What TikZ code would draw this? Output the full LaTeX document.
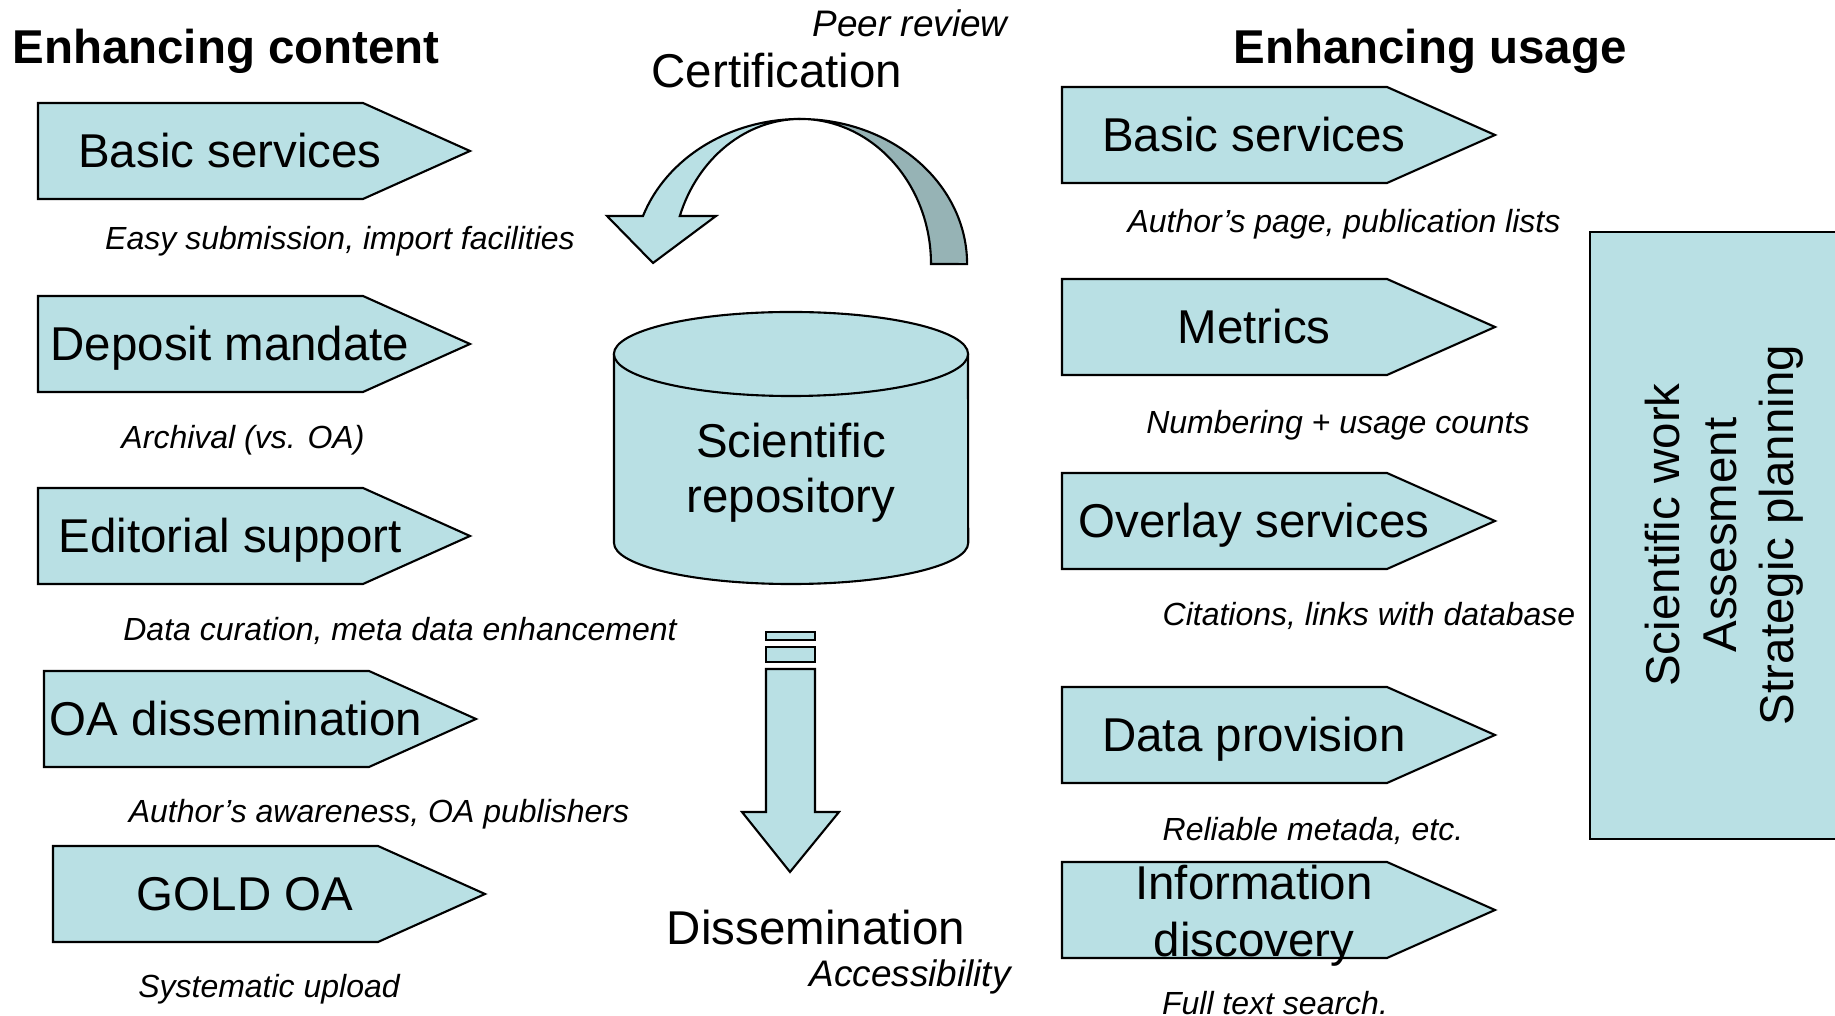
\documentclass[tikz,border=0pt]{standalone}
\usepackage{fontspec}
\setmainfont{Liberation Sans}
\usepackage{tikz}
\definecolor{repoblue}{RGB}{185,224,228}
\definecolor{repodark}{RGB}{150,179,181}

\begin{document}
\begin{tikzpicture}[x=0.01cm, y=-0.01cm,
  blockarrow/.style={draw, fill=repoblue, line width=0.6pt, line join=miter},
  boxtext/.style={font=\fontsize{13.5}{16.2}\selectfont, anchor=base, inner sep=0pt},
  note/.style={font=\fontsize{9.1}{11}\selectfont\itshape, anchor=base, inner sep=0pt},
  bignote/.style={font=\fontsize{10.5}{12.6}\selectfont\itshape, anchor=base, inner sep=0pt},
  heading/.style={font=\fontsize{13.5}{16.2}\selectfont\bfseries, anchor=base, inner sep=0pt}]
  \useasboundingbox (0,0) rectangle (1835,1016);
  \clip (0,0) rectangle (1835,1016);

  % titres
  \node[heading] (content) at (226,64) {Enhancing content};
  \node[heading] (usage) at (1430,64) {Enhancing usage};

  % fleches de gauche
  \foreach \x/\y/\txt [count=\i] in {38/103/Basic services, 38/296/Deposit mandate,
      38/488/Editorial support, 44/671/OA dissemination, 53/846/GOLD OA} {
    \draw[blockarrow] (\x,\y) -- +(325,0) -- +(432,48) -- +(325,96) -- +(0,96) -- cycle;
    \node[boxtext] (left\i) at (\x+192,\y+65) {\txt};
  }
  \node[note] (easy) at (340,250) {Easy submission, import facilities};
  \node[note] (archival) at (243,449) {Archival (vs. OA)};
  \node[note] (curation) at (400,641) {Data curation, meta data enhancement};
  \node[note] (awareness) at (379,823) {Author’s awareness, OA publishers};
  \node[note] (upload) at (269,998) {Systematic upload};

  % fleches de droite
  \foreach \y/\txt [count=\i] in {87/Basic services, 279/Metrics,
      473/Overlay services, 687/Data provision} {
    \draw[blockarrow] (1062,\y) -- +(325,0) -- +(433,48) -- +(325,96) -- +(0,96) -- cycle;
    \node[boxtext] (right\i) at (1254,\y+65) {\txt};
  }
  \draw[blockarrow] (1062,862) -- +(325,0) -- +(433,48) -- +(325,96) -- +(0,96) -- cycle;
  \node[boxtext, anchor=center, align=center] (right5) at (1254,916) {Information\\discovery};

  \node[note] (authorpage) at (1344,233) {Author’s page, publication lists};
  \node[note] (numbering) at (1338,434) {Numbering + usage counts};
  \node[note] (citations) at (1369,626) {Citations, links with database};
  \node[note] (reliable) at (1313,841) {Reliable metada, etc.};
  \node[note] (fulltext) at (1275,1015) {Full text search.};

  % panneau vertical
  \draw[fill=repoblue, line width=0.6pt] (1590,232) rectangle (1860,839);
  \node[boxtext, anchor=center, align=center, rotate=90] (goals) at (1724,535)
    {Scientific work\\Assesment\\Strategic planning};

  % certification
  \node[bignote] (peer) at (910,37) {Peer review};
  \node[boxtext] (cert) at (777,88) {Certification};
  \draw[blockarrow, fill=repodark] (800,119)
    arc[start angle=90, end angle=0, x radius=1.67cm, y radius=1.45cm] -- (931,264)
    arc[start angle=0, end angle=90, x radius=1.31cm, y radius=1.45cm] -- cycle;
  \draw[blockarrow] (643,216)
    arc[start angle=160.67, end angle=90, x radius=1.67cm, y radius=1.45cm]
    arc[start angle=90, end angle=160.67, x radius=1.28cm, y radius=1.45cm]
    -- (716,216) -- (653,263) -- (607,216) -- cycle;

  % depot
  \draw[blockarrow] (614,354) -- (614,543)
    arc[start angle=180, end angle=360, x radius=1.77cm, y radius=0.41cm] -- (968,354);
  \draw[blockarrow] (791,354) ellipse [x radius=1.77cm, y radius=0.42cm];
  \node[boxtext, anchor=center, align=center, font=\fontsize{13.5}{15.6}\selectfont] (repo) at (791,473)
    {Scientific\\repository};

  % dissemination
  \draw[blockarrow] (766,632) rectangle (815,640);
  \draw[blockarrow] (766,647) rectangle (815,662);
  \draw[blockarrow] (766,669) -- (815,669) -- (815,812) -- (839,812) -- (790,872)
    -- (742,812) -- (766,812) -- cycle;
  \node[boxtext] (diss) at (816,945) {Dissemination};
  \node[bignote] (access) at (910,987) {Accessibility};
\end{tikzpicture}
\end{document}
